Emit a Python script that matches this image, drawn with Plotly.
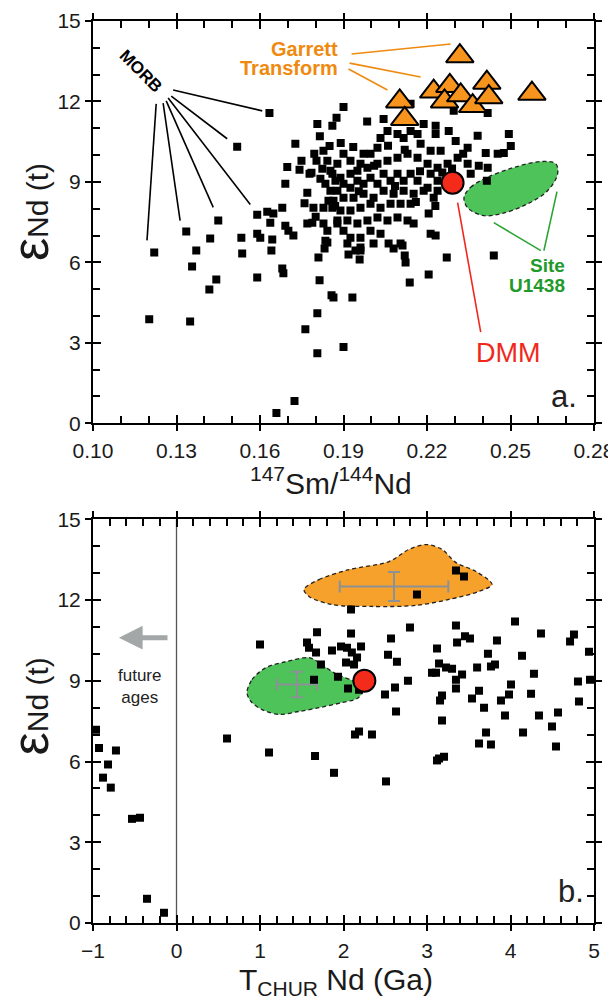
import plotly.graph_objects as go

FONT = "Liberation Sans, Arial, Helvetica, sans-serif"

# ---------------- Panel a data: 147Sm/144Nd vs eNd(t) ----------------
morb_sm_nd = [
    0.1634, 0.1518, 0.1727, 0.1698, 0.1749, 0.1742, 0.1691, 0.1778, 0.1680, 0.1626,
    0.1590, 0.1648, 0.1637, 0.1691, 0.1702, 0.1720, 0.1590, 0.1601, 0.1644, 0.1533,
    0.1450, 0.1421, 0.1335, 0.1770, 0.1202, 0.1349, 0.1220, 0.1356, 0.1371, 0.1418,
    0.1443, 0.1536, 0.1590, 0.1641, 0.1680, 0.1684, 0.1659, 0.1724, 0.1763, 0.1810,
    0.1814, 0.1857, 0.1864, 0.1806, 0.1806, 0.1832, 0.1842, 0.1900, 0.1932, 0.2138,
    0.2206, 0.2271, 0.2440, 0.2120, 0.2123, 0.2080, 0.2112, 0.2062, 0.1918, 0.1943,
    0.1961, 0.1958, 0.1806, 0.1860, 0.1875, 0.1785, 0.1803, 0.1828, 0.1850, 0.1842,
    0.1824, 0.1817, 0.1835, 0.1853, 0.1846, 0.1860, 0.1828, 0.1792, 0.1788, 0.1828,
    0.1842, 0.1835, 0.1878, 0.1871, 0.1853, 0.1900, 0.2141, 0.2044, 0.2231, 0.2278,
    0.2382, 0.2494, 0.2501, 0.2476, 0.2454, 0.2411, 0.2346, 0.2303, 0.2296, 0.2418,
    0.2188, 0.2231, 0.2249, 0.2213, 0.2177, 0.2166, 0.2141, 0.2116, 0.2094, 0.2058,
    0.2033, 0.2022, 0.1997, 0.1972, 0.1961, 0.1925, 0.1900, 0.1878, 0.1860, 0.1889,
    0.1925, 0.1950, 0.1986, 0.2022, 0.2058, 0.2094, 0.2130, 0.2166, 0.2202, 0.2238,
    0.2274, 0.2310, 0.2346, 0.2386, 0.2418, 0.2415, 0.2357, 0.2238, 0.2213, 0.2202,
    0.2166, 0.2141, 0.2116, 0.2094, 0.2069, 0.2044, 0.2022, 0.1997, 0.1972, 0.1950,
    0.1925, 0.1900, 0.1878, 0.1864, 0.1900, 0.1936, 0.1972, 0.2008, 0.2044, 0.2080,
    0.2116, 0.2152, 0.2188, 0.2238, 0.2224, 0.2141, 0.2105, 0.2069, 0.2033, 0.1997,
    0.1961, 0.1925, 0.1889, 0.1878, 0.1914, 0.1950, 0.1986, 0.2022, 0.2058, 0.2094,
    0.2130, 0.2152, 0.2206, 0.2213, 0.2231, 0.2105, 0.2033, 0.1997, 0.1961, 0.1925,
    0.1900, 0.1914, 0.1961, 0.2008,
    0.1770, 0.1795, 0.1815, 0.1890, 0.1935, 0.1985, 0.2060, 0.2120, 0.2175, 0.2255,
    0.1760, 0.1800, 0.1870, 0.1955, 0.2010, 0.2085, 0.2160, 0.2230, 0.2290, 0.2330,
]
morb_eps = [
    11.57, 10.31, 10.42, 9.56, 9.79, 9.45, 8.93, 9.30, 8.04, 7.89,
    7.78, 7.82, 7.48, 7.37, 7.18, 7.00, 7.07, 6.92, 6.85, 6.92,
    7.56, 6.89, 7.15, 7.45, 3.88, 3.80, 6.37, 5.85, 6.44, 4.99,
    5.36, 6.33, 5.44, 6.44, 5.77, 5.59, 0.38, 0.83, 3.51, 6.18,
    5.33, 4.77, 4.69, 4.10, 2.61, 6.52, 6.74, 2.84, 4.69, 5.25,
    5.55, 6.18, 6.26, 6.26, 6.00, 6.52, 6.63, 6.70, 6.29, 6.44,
    6.44, 6.11, 11.16, 11.09, 11.39, 9.34, 9.79, 10.16, 10.34, 9.79,
    9.49, 9.12, 8.93, 8.67, 8.30, 8.04, 8.04, 8.04, 7.48, 7.45,
    7.18, 6.81, 7.45, 9.04, 9.42, 11.79, 11.91, 11.35, 11.09, 10.90,
    10.72, 10.79, 10.34, 10.08, 10.05, 10.08, 10.27, 10.53, 11.65, 11.57,
    11.16, 10.79, 10.16, 10.16, 10.42, 10.79, 10.90, 10.64, 10.79, 10.90,
    10.64, 10.27, 10.05, 10.05, 9.68, 9.79, 10.05, 9.68, 9.30, 9.16,
    9.30, 9.42, 9.53, 9.68, 9.79, 9.90, 10.05, 9.90, 9.68, 9.53,
    9.68, 9.90, 9.68, 9.60, 9.53, 9.04, 9.30, 9.04, 9.30, 8.78,
    9.04, 9.30, 9.04, 9.30, 9.04, 9.30, 8.93, 9.16, 8.93, 9.04,
    8.78, 8.93, 8.67, 8.30, 8.41, 8.41, 8.56, 8.41, 8.67, 8.56,
    8.67, 8.56, 8.67, 8.67, 8.41, 8.19, 8.19, 8.19, 8.04, 8.19,
    8.04, 7.93, 7.93, 7.56, 7.56, 7.45, 7.56, 7.67, 7.56, 7.67,
    7.56, 7.45, 7.82, 7.07, 7.00, 6.70, 7.07, 7.18, 6.92, 6.92,
    7.18, 6.70, 6.55, 6.70,
    8.60, 10.05, 10.70, 10.45, 10.30, 11.25, 10.35, 10.20, 9.40, 9.35,
    8.20, 7.70, 8.10, 8.65, 9.60, 8.85, 8.25, 8.10, 9.50, 10.05,
]
garrett_sm_nd = [0.2318, 0.2102, 0.2120, 0.2224, 0.2282, 0.2263, 0.2321, 0.2364, 0.2415, 0.2422, 0.2577]
garrett_eps = [13.69, 12.00, 11.35, 12.37, 12.58, 12.00, 12.23, 11.83, 12.70, 12.16, 12.29]
dmm_sm_nd = [0.2292]
dmm_eps_a = [8.97]
u1438_a_sm_nd = [0.2333, 0.2357, 0.2417, 0.2513, 0.2609, 0.2663, 0.2669, 0.2633, 0.2561, 0.2465, 0.2399, 0.2345, 0.2333]
u1438_a_eps = [8.42, 8.80, 9.17, 9.54, 9.76, 9.67, 9.29, 8.67, 8.18, 7.81, 7.75, 8.05, 8.42]

# leader lines (label end -> data end)
morb_leaders = [
    (0.1288, 12.43, 0.1608, 11.65),
    (0.1281, 12.20, 0.1482, 10.61),
    (0.1270, 12.13, 0.1565, 8.16),
    (0.1263, 12.02, 0.1432, 8.05),
    (0.1252, 11.94, 0.1313, 7.56),
    (0.1227, 11.91, 0.1194, 6.82),
]
garrett_leaders = [
    (0.1929, 13.77, 0.2285, 14.14),
    (0.1922, 13.43, 0.2177, 12.91),
    (0.1918, 13.21, 0.2058, 12.43),
]
dmm_leader_a = (0.2310, 8.23, 0.2393, 3.40)
site_leaders = [
    (0.2440, 7.48, 0.2609, 6.44),
    (0.2667, 8.64, 0.2620, 6.44),
]

# ---------------- Panel b data: T_CHUR Nd vs eNd(t) ----------------
tchur = [
    -0.964, -0.928, -0.725, -0.820, -0.880, -0.787, -0.533, -0.437, -0.353, -0.150,
    0.605, 1.000, 1.108, 1.659, 1.886, 2.509, 3.120, 3.144, 3.204, 3.623,
    3.766, 4.545, 3.347, 3.443, 2.880, 2.090, 1.683, 2.090, 2.796, 3.347,
    4.054, 4.365, 4.760, 4.713, 2.569, 3.455, 3.515, 3.360, 3.838, 1.563,
    1.587, 1.671, 1.862, 1.970, 2.042, 2.210, 2.100, 2.162, 2.030, 2.126,
    1.730, 2.533, 2.640, 3.120, 3.730, 4.138, 3.144, 3.108, 3.228, 3.300,
    3.060, 3.420, 3.600, 3.766, 3.814, 4.281, 4.940, 1.934, 1.647, 2.054,
    2.186, 2.772, 3.347, 3.347, 3.623, 4.006, 4.808, 4.952, 2.497, 2.617,
    3.180, 3.156, 3.539, 3.886, 3.982, 4.246, 4.820, 2.629, 3.180, 3.683,
    3.934, 4.341, 4.569, 4.497, 4.150, 3.707, 2.138, 2.186, 2.341,
]
eps_b = [
    7.18, 6.50, 6.41, 5.89, 5.40, 5.03, 3.87, 3.91, 0.90, 0.38,
    6.85, 10.35, 6.33, 6.20, 5.58, 5.26, 6.04, 6.11, 6.18, 6.67,
    6.63, 6.56, 13.10, 12.87, 12.20, 11.65, 10.80, 10.76, 10.98, 11.05,
    11.20, 10.76, 10.72, 10.46, 10.57, 10.65, 10.57, 10.42, 10.50, 10.42,
    10.23, 10.05, 10.12, 10.27, 10.23, 10.27, 10.05, 9.86, 9.68, 9.60,
    9.60, 9.97, 9.71, 10.20, 10.00, 9.93, 9.64, 9.30, 9.49, 9.45,
    9.30, 9.23, 9.49, 9.53, 9.60, 9.26, 10.08, 9.15, 9.04, 8.71,
    8.67, 9.00, 9.04, 8.71, 8.63, 8.86, 8.97, 9.04, 8.49, 8.75,
    8.45, 8.27, 8.34, 8.27, 8.49, 8.52, 8.23, 7.86, 7.52, 8.00,
    7.71, 7.71, 7.82, 7.30, 7.08, 7.08, 7.00, 7.11, 7.00,
]
garrett_b_tchur = [1.527, 1.707, 2.066, 2.545, 2.784, 2.988, 3.180, 3.347, 3.587, 3.778, 3.623, 3.263, 2.868, 2.341, 1.862, 1.587, 1.527]
garrett_b_eps = [12.39, 12.76, 13.13, 13.43, 13.88, 14.06, 13.88, 13.39, 13.06, 12.58, 12.32, 12.02, 11.80, 11.76, 11.83, 12.13, 12.39]
u1438_b_tchur = [0.844, 0.904, 1.072, 1.311, 1.587, 1.707, 1.862, 1.982, 2.126, 2.222, 2.162, 1.982, 1.707, 1.467, 1.228, 1.024, 0.892, 0.844]
u1438_b_eps = [8.56, 9.04, 9.49, 9.71, 9.86, 9.68, 9.34, 9.16, 8.97, 8.56, 8.34, 8.19, 8.00, 7.86, 7.75, 7.93, 8.23, 8.56]
dmm_tchur = [2.25]
dmm_eps_b = [9.0]
garrett_mean_tchur = [2.605]
garrett_mean_eps = [12.5]
garrett_err_tchur = [0.65]
garrett_err_eps = [0.54]
u1438_mean_tchur = [1.443]
u1438_mean_eps = [8.86]
u1438_err_tchur = [0.24]
u1438_err_eps = [0.47]

# ---------------- colours ----------------
ORANGE_FILL = "#f7941d"
ORANGE_REGION = "#f6a12b"
ORANGE_TEXT = "#ef8a10"
GREEN_FILL = "#4dc35a"
GREEN_TEXT = "#1f9a2a"
RED_FILL = "#f42b1a"
RED_TEXT = "#f0281c"
GRAY_ERR = "#8c9196"
ARROW_GRAY = "#a3a7a7"

fig = go.Figure()

# ---- Panel a traces ----
fig.add_trace(go.Scatter(x=u1438_a_sm_nd, y=u1438_a_eps, mode="lines", fill="toself",
                         fillcolor=GREEN_FILL, line=dict(color="#222", width=1.3, dash="4px,3px", shape="spline", smoothing=1.0),
                         xaxis="x", yaxis="y", hoverinfo="skip"))
fig.add_trace(go.Scatter(x=morb_sm_nd, y=morb_eps, mode="markers",
                         marker=dict(symbol="square", size=8, color="black"), xaxis="x", yaxis="y"))
fig.add_trace(go.Scatter(x=garrett_sm_nd, y=garrett_eps, mode="markers",
                         marker=dict(symbol="triangle-up", size=24, color=ORANGE_FILL, line=dict(color="black", width=2)),
                         xaxis="x", yaxis="y"))
fig.add_trace(go.Scatter(x=dmm_sm_nd, y=dmm_eps_a, mode="markers",
                         marker=dict(symbol="circle", size=22, color=RED_FILL, line=dict(color="black", width=2)),
                         xaxis="x", yaxis="y"))

# ---- Panel b traces ----
fig.add_trace(go.Scatter(x=garrett_b_tchur, y=garrett_b_eps, mode="lines", fill="toself",
                         fillcolor=ORANGE_REGION, line=dict(color="#222", width=1.3, dash="4px,3px", shape="spline", smoothing=0.9),
                         xaxis="x2", yaxis="y2", hoverinfo="skip"))
fig.add_trace(go.Scatter(x=u1438_b_tchur, y=u1438_b_eps, mode="lines", fill="toself",
                         fillcolor=GREEN_FILL, line=dict(color="#222", width=1.3, dash="4px,3px", shape="spline", smoothing=0.9),
                         xaxis="x2", yaxis="y2", hoverinfo="skip"))
for mx, my, ex, ey in [(garrett_mean_tchur, garrett_mean_eps, garrett_err_tchur, garrett_err_eps),
                       (u1438_mean_tchur, u1438_mean_eps, u1438_err_tchur, u1438_err_eps)]:
    fig.add_trace(go.Scatter(x=mx, y=my, mode="markers", marker=dict(size=1, color="rgba(0,0,0,0)"),
                             error_x=dict(type="data", array=ex, color=GRAY_ERR, thickness=2, width=6),
                             error_y=dict(type="data", array=ey, color=GRAY_ERR, thickness=2, width=6),
                             xaxis="x2", yaxis="y2"))
fig.add_trace(go.Scatter(x=tchur, y=eps_b, mode="markers",
                         marker=dict(symbol="square", size=8, color="black"), xaxis="x2", yaxis="y2"))
fig.add_trace(go.Scatter(x=dmm_tchur, y=dmm_eps_b, mode="markers",
                         marker=dict(symbol="circle", size=22, color=RED_FILL, line=dict(color="black", width=2)),
                         xaxis="x2", yaxis="y2"))

# dummy traces for the overlay tick axes (outer halves of crossing ticks)
fig.add_trace(go.Scatter(x=[None], y=[None], xaxis="x3", yaxis="y3", hoverinfo="skip"))
fig.add_trace(go.Scatter(x=[None], y=[None], xaxis="x4", yaxis="y4", hoverinfo="skip"))

TICKFONT = dict(family=FONT, size=21, color="#1a1a1a")


def main_axis(rng, dtick, minor_dtick, domain, anchor, fmt=None, standoff=6):
    d = dict(range=rng, domain=domain, anchor=anchor, showline=True, linewidth=2, linecolor="black",
             mirror="ticks", ticks="inside", ticklen=8, tickwidth=2, tickcolor="black",
             tick0=rng[0], dtick=dtick, showgrid=False, zeroline=False, tickfont=TICKFONT,
             ticklabelstandoff=standoff, automargin=False,
             minor=dict(ticks="inside", ticklen=7, tickwidth=1.6, tickcolor="black", dtick=minor_dtick,
                        tick0=rng[0], showgrid=False))
    if fmt:
        d["tickformat"] = fmt
    return d


def overlay_axis(rng, dtick, over, anchor):
    return dict(range=rng, overlaying=over, anchor=anchor, ticks="outside", ticklen=7, tickwidth=2,
                tickcolor="black", tick0=rng[0], dtick=dtick, mirror="ticks", showline=False,
                showticklabels=False, showgrid=False, zeroline=False, automargin=False)


dom_a = [0.554, 1.0]
dom_b = [0.0, 0.4476]

# the page body adds an 8 px offset; the figure is sized to fit the 616x1001 window
fig.update_layout(
    width=608, height=993,
    margin=dict(l=85, r=22, t=13, b=78, autoexpand=False),
    plot_bgcolor="white", paper_bgcolor="white",
    showlegend=False,
    xaxis=main_axis([0.10, 0.28], 0.03, 0.01, [0, 1], "y", fmt=".2f", standoff=8),
    yaxis=main_axis([0, 15], 3, 1, dom_a, "x", standoff=6),
    xaxis2=main_axis([-1, 5], 1, 0.2, [0, 1], "y2", standoff=8),
    yaxis2=main_axis([0, 15], 3, 1, dom_b, "x2", standoff=6),
    xaxis3=overlay_axis([0.10, 0.28], 0.03, "x", "y"),
    yaxis3=overlay_axis([0, 15], 3, "y", "x"),
    xaxis4=overlay_axis([-1, 5], 1, "x2", "y2"),
    yaxis4=overlay_axis([0, 15], 3, "y2", "x2"),
)

shapes = []
for x0, y0, x1, y1 in morb_leaders:
    shapes.append(dict(type="line", xref="x", yref="y", x0=x0, y0=y0, x1=x1, y1=y1,
                       line=dict(color="black", width=1.6)))
for x0, y0, x1, y1 in garrett_leaders:
    shapes.append(dict(type="line", xref="x", yref="y", x0=x0, y0=y0, x1=x1, y1=y1,
                       line=dict(color=ORANGE_TEXT, width=1.6)))
shapes.append(dict(type="line", xref="x", yref="y", x0=dmm_leader_a[0], y0=dmm_leader_a[1],
                   x1=dmm_leader_a[2], y1=dmm_leader_a[3], line=dict(color=RED_TEXT, width=1.6)))
for x0, y0, x1, y1 in site_leaders:
    shapes.append(dict(type="line", xref="x", yref="y", x0=x0, y0=y0, x1=x1, y1=y1,
                       line=dict(color="#2aa534", width=1.6)))
shapes.append(dict(type="line", xref="x2", yref="y2", x0=0, y0=0, x1=0, y1=15, layer="below",
                   line=dict(color="#555", width=1.3)))
fig.update_layout(shapes=shapes)

ann = []
# Panel a labels
ann.append(dict(x=0.1173, y=13.13, xref="x", yref="y", text="<b>MORB</b>", textangle=45, showarrow=False,
                font=dict(family=FONT, size=17, color="black")))
ann.append(dict(x=0.1886, y=13.95, xref="x", yref="y", text="<b>Garrett</b>", xanchor="right", showarrow=False,
                font=dict(family=FONT, size=20, color=ORANGE_TEXT)))
ann.append(dict(x=0.1886, y=13.25, xref="x", yref="y", text="<b>Transform</b>", xanchor="right", showarrow=False,
                font=dict(family=FONT, size=20, color=ORANGE_TEXT)))
ann.append(dict(x=0.2703, y=5.88, xref="x", yref="y", text="<b>Site</b>", xanchor="right", showarrow=False,
                font=dict(family=FONT, size=19, color=GREEN_TEXT)))
ann.append(dict(x=0.2703, y=5.14, xref="x", yref="y", text="<b>U1438</b>", xanchor="right", showarrow=False,
                font=dict(family=FONT, size=19, color=GREEN_TEXT)))
ann.append(dict(x=0.249, y=2.62, xref="x", yref="y", text="DMM", showarrow=False,
                font=dict(family=FONT, size=27, color=RED_TEXT)))
ann.append(dict(x=0.2746, y=1.01, xref="x", yref="y", text="a.", xanchor="right", showarrow=False,
                font=dict(family=FONT, size=31, color="#222")))
# Panel b labels
ann.append(dict(x=4.9, y=1.16, xref="x2", yref="y2", text="b.", xanchor="right", showarrow=False,
                font=dict(family=FONT, size=31, color="#222")))
ann.append(dict(x=-0.449, y=8.78, xref="x2", yref="y2", text="future<br>ages", showarrow=False,
                font=dict(family=FONT, size=17, color="#222")))
ann.append(dict(x=-0.69, y=10.6, ax=-0.09, ay=10.6, xref="x2", yref="y2", axref="x2", ayref="y2",
                text="", showarrow=True, arrowhead=2, arrowsize=0.95, arrowwidth=5, arrowcolor=ARROW_GRAY))
# axis titles
ytitle = ('<span style="font-size:52px">ε</span>'
          '<span style="font-size:30px">Nd (t)</span>')
for yy in (0.788, 0.24):
    ann.append(dict(x=-0.126, y=yy, xref="paper", yref="paper", text=ytitle, textangle=-90, showarrow=False,
                    xanchor="center", yanchor="middle",
                    font=dict(family=FONT, size=30, color="#1a1a1a")))
ann.append(dict(x=0.475, y=0.49, xref="paper", yref="paper", text="<sup>147</sup>Sm/<sup>144</sup>Nd",
                xanchor="center", yanchor="middle",
                showarrow=False, font=dict(family=FONT, size=30, color="#1a1a1a")))
ann.append(dict(x=0.485, y=-0.065, xref="paper", yref="paper", text="T<sub>CHUR</sub> Nd (Ga)",
                xanchor="center", yanchor="middle",
                showarrow=False, font=dict(family=FONT, size=30, color="#1a1a1a")))
fig.update_layout(annotations=ann)

fig.write_html("out.html")
